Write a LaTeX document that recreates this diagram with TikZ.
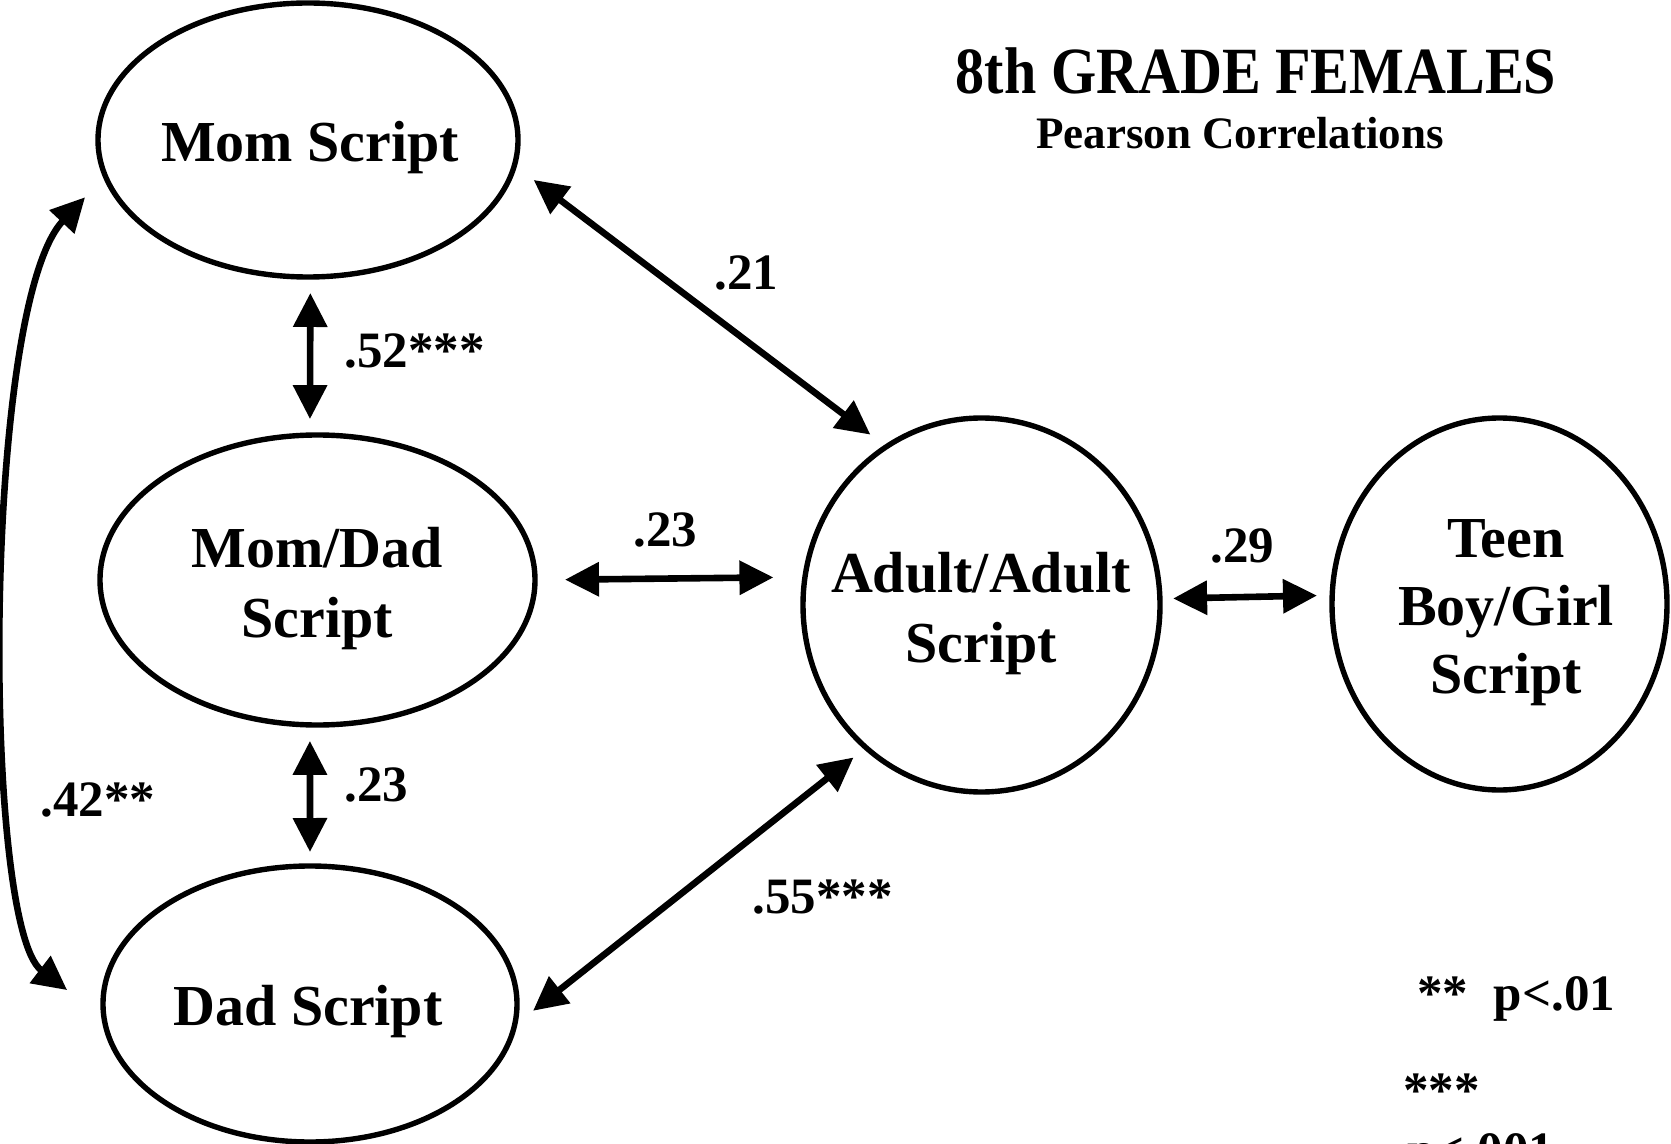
\documentclass[tikz,border=0pt]{standalone}
\usepackage{fontspec}
\setmainfont{Liberation Serif}
\newfontfamily\titlefont[FakeStretch=0.88]{Liberation Serif}
\usetikzlibrary{arrows.meta,shapes.geometric}
\begin{document}
\begin{tikzpicture}[x=0.5pt,y=-0.5pt,
  oval/.style={draw, line width=2.7pt, ellipse, inner sep=0pt, outer sep=0pt},
  nodetext/.style={font=\fontsize{29pt}{35pt}\selectfont\bfseries, inner sep=0pt, align=center, anchor=base},
  lab/.style={font=\fontsize{25.5pt}{30pt}\selectfont\bfseries, inner sep=0pt, anchor=base west},
  dbl/.style={line width=3.3pt, {Triangle[length=17pt,width=16.5pt]}-{Triangle[length=17pt,width=16.5pt]}}]
\fill[white] (0,0) rectangle (1671,1144);
\useasboundingbox (0,0) rectangle (1671,1144);

% ovals
\node[oval, minimum width=210pt, minimum height=137pt] (mom) at (308,140) {};
\node[oval, minimum width=217.5pt, minimum height=145pt] (momdad) at (317.5,580) {};
\node[oval, minimum width=207pt, minimum height=138pt] (dad) at (310,1004) {};
\node[oval, minimum width=178.5pt, minimum height=187pt] (adult) at (981.5,605) {};
\node[oval, minimum width=167.5pt, minimum height=186pt] (teen) at (1499.5,604) {};

% texts inside (anchor = baseline of last line)
\node[nodetext] (momtext) at (310,162) {Mom Script};
\node[nodetext] (momdadtext) at (317,637) {Mom/Dad\\Script};
\node[nodetext] (dadtext) at (308,1025) {Dad Script};
\node[nodetext] (adulttext) at (981,662) {Adult/Adult\\Script};
\node[nodetext, font=\fontsize{29pt}{34pt}\selectfont\bfseries] (teentext) at (1506,693) {Teen\\Boy/Girl\\Script};

% title
\node[font=\titlefont\fontsize{33pt}{40pt}\selectfont\bfseries, anchor=base, inner sep=0pt] (title) at (1256,94) {8th GRADE FEMALES};
\node[font=\fontsize{22.5pt}{27pt}\selectfont\bfseries, anchor=base, inner sep=0pt] (subtitle) at (1240,149) {Pearson Correlations};

% connectors
\draw[dbl, shorten <=8pt, shorten >=8pt] (mom.-89.6) -- (momdad.93.36);
\draw[dbl, shorten <=8pt, shorten >=7pt] (momdad.-93.36) -- (dad.90.4);
\draw[dbl, shorten <=12.1pt, shorten >=10.05pt] (mom.-7.59) -- (adult.121.9);
\draw[dbl, shorten <=11.85pt, shorten >=7.95pt] (dad.-6.08) -- (adult.-129.25);
\draw[dbl, shorten <=15pt, shorten >=15.8pt] (momdad.0) -- (adult.171.96);
\draw[dbl, shorten <=6.6pt, shorten >=7.6pt] (adult.2.89) -- (teen.177.26);
\draw[dbl, shorten <=14.75pt, shorten >=23.3pt] (mom.190.4) .. controls (-18,307) and (-18,925) .. (dad.184.45);

% labels
\node[lab] (l21) at (714,290) {.21};
\node[lab] (l52) at (344,368) {.52***};
\node[lab] (l23a) at (633,546) {.23};
\node[lab] (l23b) at (344,801) {.23};
\node[lab] (l42) at (40,816) {.42**};
\node[lab] (l55) at (752,913) {.55***};
\node[lab] (l29) at (1210,562) {.29};

% legend
\node[lab] (leg1) at (1417,1010) {**\ \ p<.01};
\node[lab] (leg2) at (1403,1107) {***};
\node[lab] (leg3) at (1407,1167) {p<.001};
\end{tikzpicture}
\end{document}
